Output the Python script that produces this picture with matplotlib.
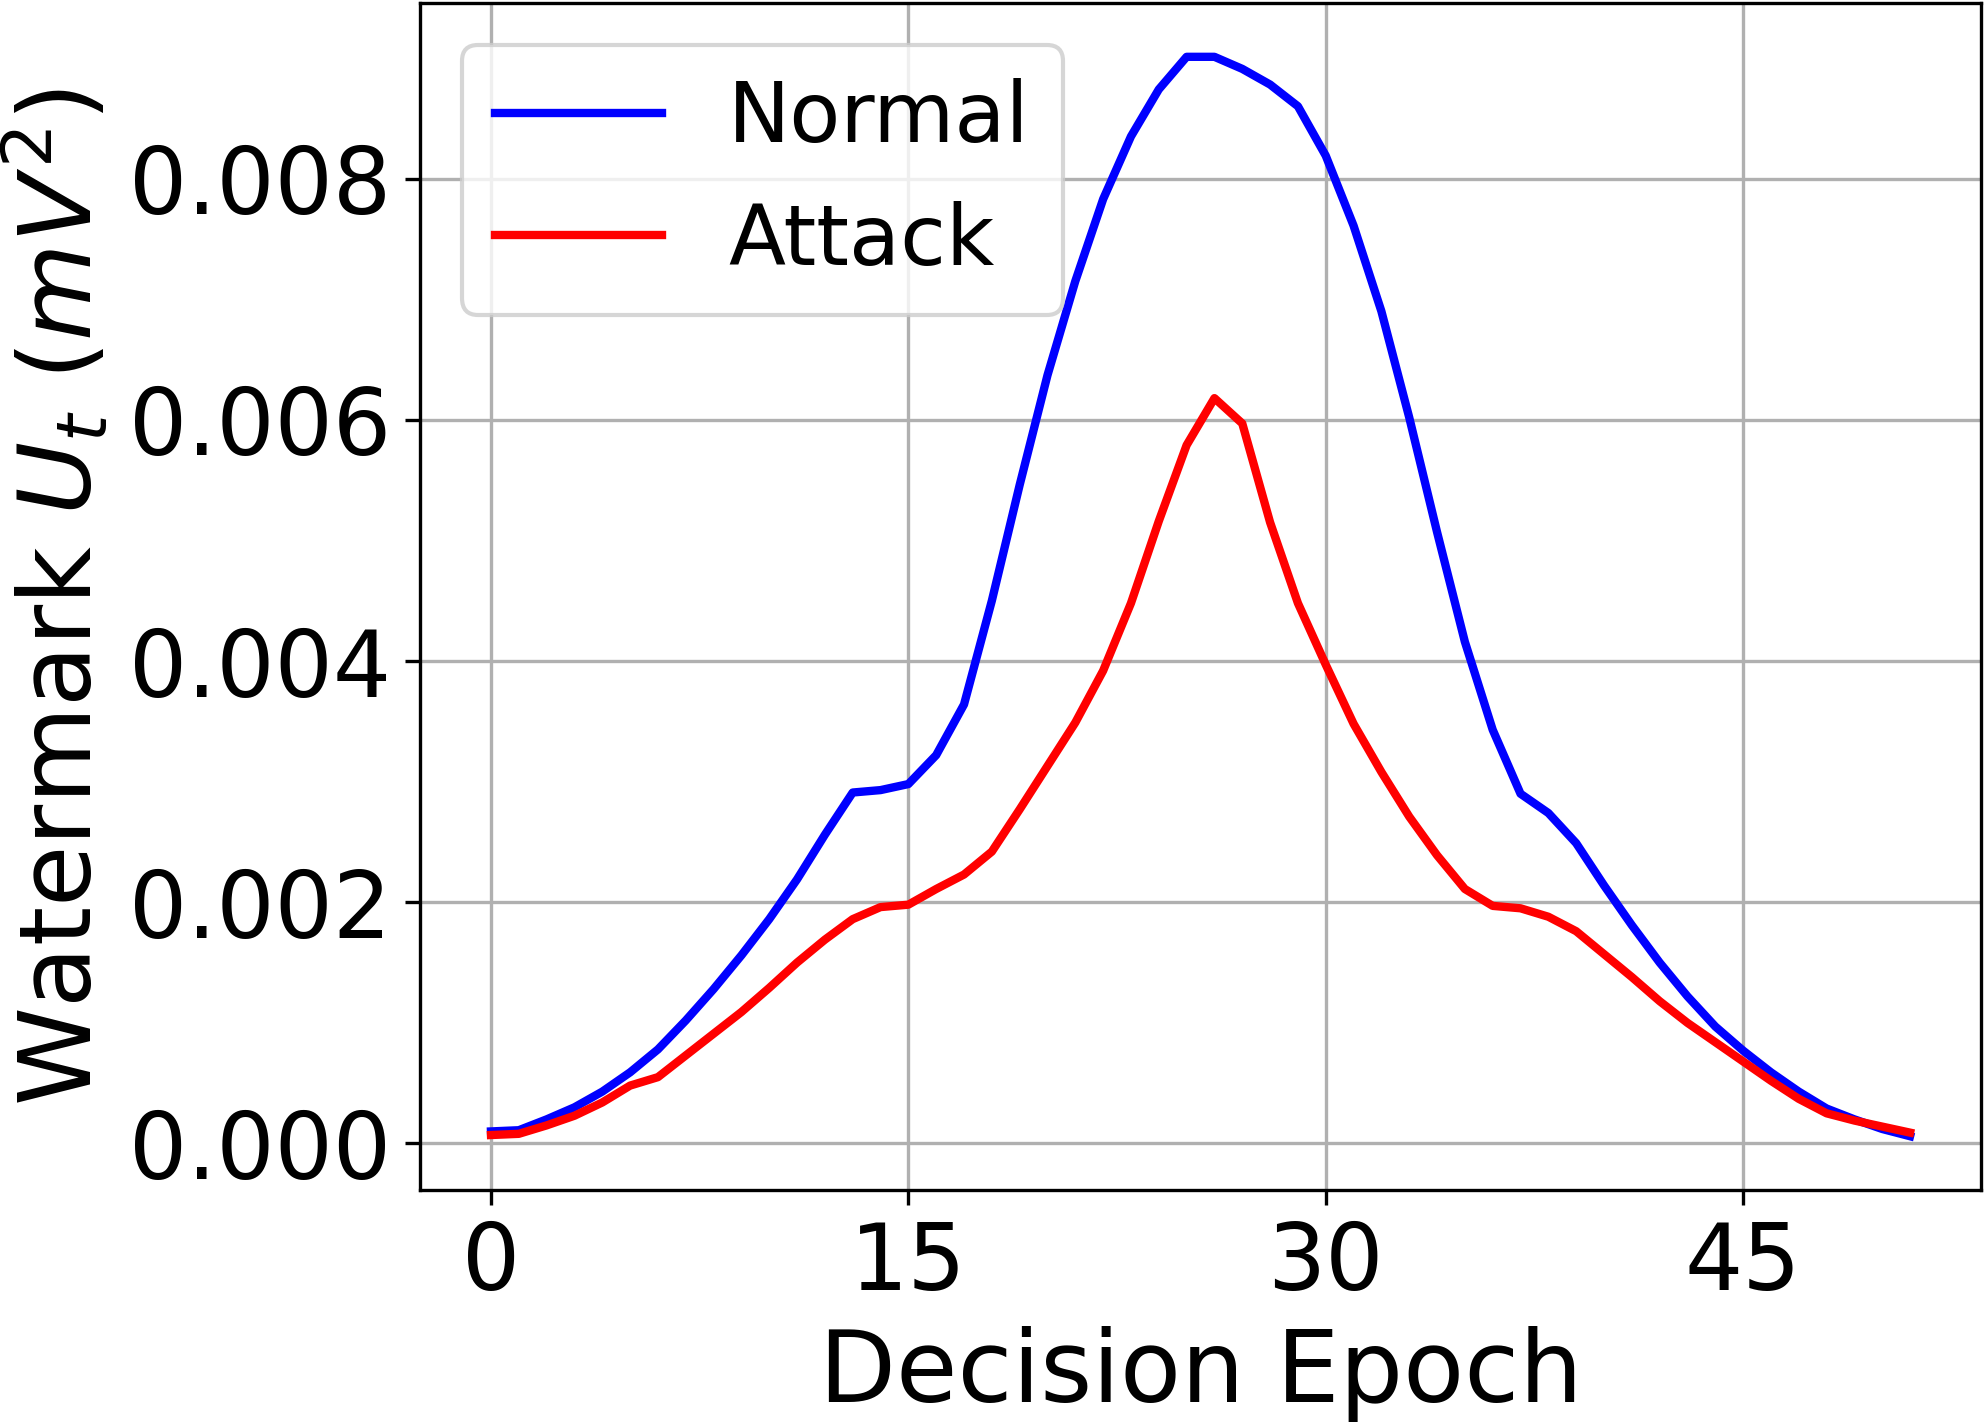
import matplotlib
matplotlib.use('Agg')
import matplotlib.pyplot as plt
import numpy as np

# Watermark values per decision epoch
epochs = np.arange(52)
normal = [0.00010, 0.00011, 0.00020, 0.00030, 0.00043, 0.00059, 0.00078, 0.00102,
          0.00128, 0.00156, 0.00186, 0.00219, 0.00256, 0.00291, 0.00293, 0.00298,
          0.00322, 0.00364, 0.00450, 0.00546, 0.00637, 0.00715, 0.00783, 0.00835,
          0.00874, 0.00901, 0.00901, 0.00891, 0.00878, 0.00860, 0.00819, 0.00761,
          0.00690, 0.00602, 0.00507, 0.00416, 0.00343, 0.00290, 0.00274, 0.00249,
          0.00214, 0.00181, 0.00150, 0.00122, 0.00097, 0.00077, 0.00059, 0.00043,
          0.00029, 0.00020, 0.00012, 0.00006]
attack = [0.00007, 0.00008, 0.00015, 0.00023, 0.00034, 0.00048, 0.00055, 0.00073,
          0.00091, 0.00109, 0.00129, 0.00150, 0.00169, 0.00186, 0.00196, 0.00198,
          0.00211, 0.00223, 0.00242, 0.00277, 0.00313, 0.00349, 0.00392, 0.00448,
          0.00516, 0.00579, 0.00618, 0.00597, 0.00515, 0.00448, 0.00397, 0.00348,
          0.00308, 0.00271, 0.00239, 0.00211, 0.00197, 0.00195, 0.00188, 0.00176,
          0.00157, 0.00138, 0.00118, 0.00100, 0.00084, 0.00068, 0.00052, 0.00037,
          0.00025, 0.00019, 0.00014, 0.00009]
xticks = [0, 15, 30, 45]

fig = plt.figure(figsize=(1985 / 300, 1422 / 300), dpi=300)
ax = fig.add_subplot(111)
fig.subplots_adjust(left=0.2116, right=0.998, top=0.998, bottom=0.163)

ax.plot(epochs, normal, color='blue', lw=2, label='Normal')
ax.plot(epochs, attack, color='red', lw=2, label='Attack')

ax.set_xticks(xticks)
ax.set_yticks([0, 0.002, 0.004, 0.006, 0.008])
ax.set_yticklabels(['0.000', '0.002', '0.004', '0.006', '0.008'])
ax.tick_params(labelsize=22)
ax.set_xlabel('Decision Epoch', fontsize=24)
ax.set_ylabel(r'Watermark $U_t$ ($mV^2$)', fontsize=24)
ax.grid(True)
ax.legend(loc='upper left', fontsize=20)

fig.savefig('out.png', dpi=300)
